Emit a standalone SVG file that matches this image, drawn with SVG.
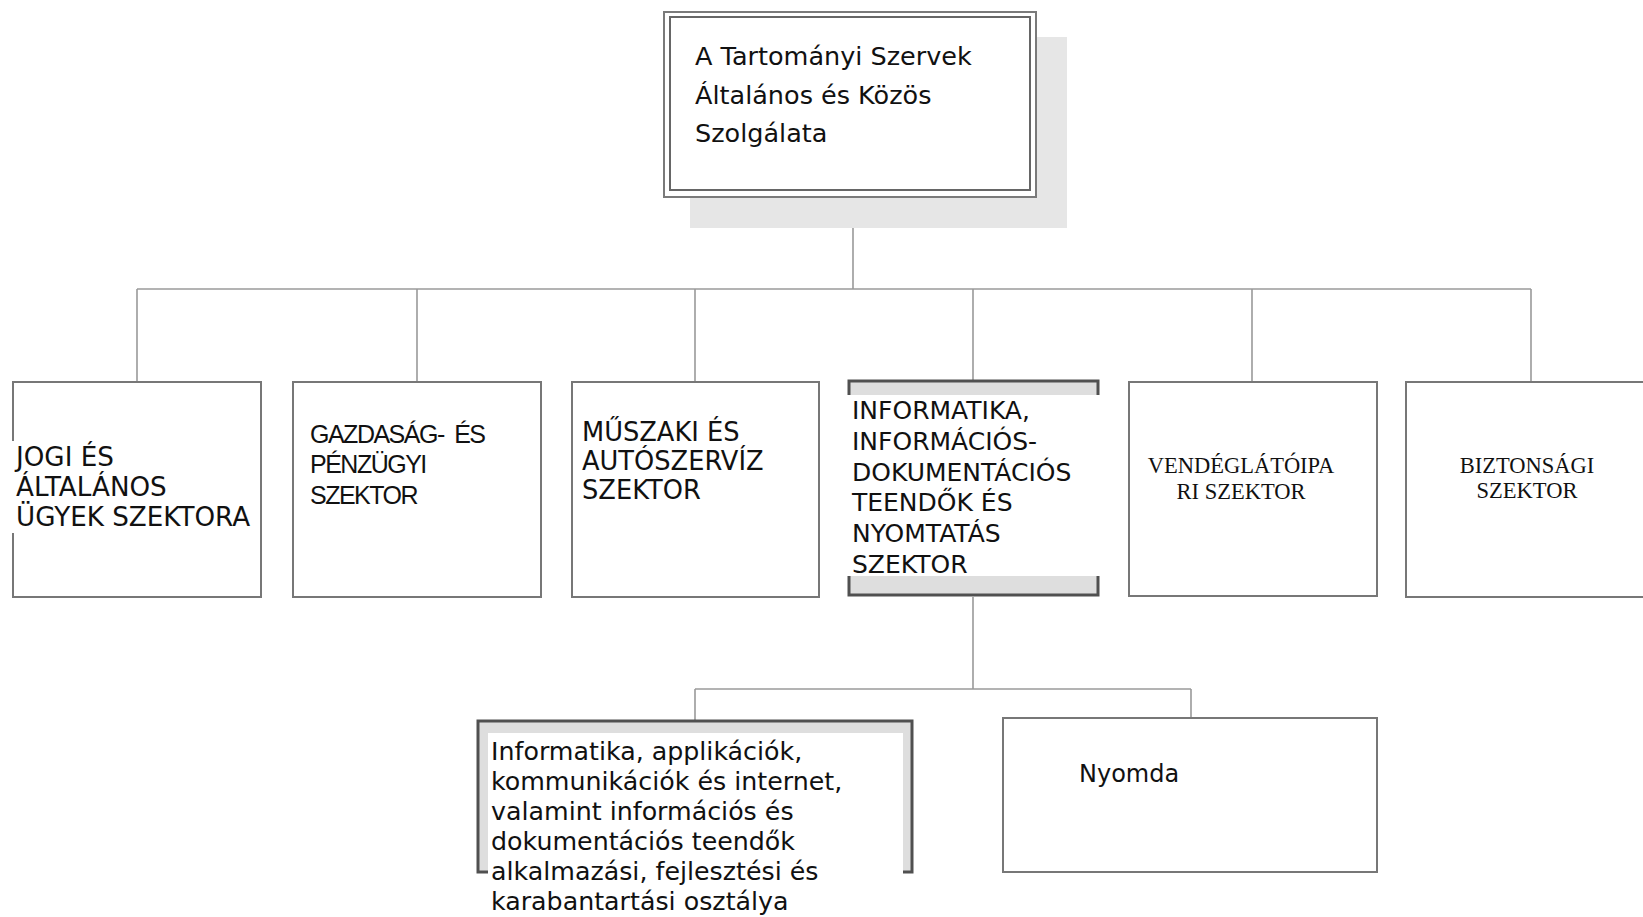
<svg xmlns="http://www.w3.org/2000/svg" width="1643" height="917" viewBox="0 0 1643 917">
<style>
.box{fill:#fff;stroke:#777;stroke-width:2}
.bold{fill:#dedede;stroke:#505050;stroke-width:3}
.bg{fill:#fff}
.conn{stroke:#9a9a9a;stroke-width:1.6;fill:none}
.v{font-family:"DejaVu Sans",Verdana,sans-serif;font-size:25px;fill:#111}
.n{font-family:"Liberation Sans",Arial,sans-serif;font-size:25px;letter-spacing:-1.5px;fill:#111}
.s{font-family:"Liberation Serif","Times New Roman",serif;font-size:22.5px;fill:#111;text-anchor:middle}
</style>
<rect width="1643" height="917" fill="#fff"/>
<g id="connectors">
<path class="conn" d="M853 197V289M137 289H1531M137 289V382M417 289V382M695 289V382M973 289V382M1252 289V382M1531 289V382"/>
<path class="conn" d="M973 597V689M695 689H1191M695 689V720M1191 689V718"/>
</g>
<g id="top">
<rect x="690" y="37" width="377" height="191" fill="#e6e6e6"/>
<rect x="664" y="12" width="372" height="185" fill="#fff" stroke="#7a7a7a" stroke-width="2"/>
<rect x="670" y="17" width="360" height="173" fill="#fff" stroke="#666" stroke-width="2"/>
<text class="v" style="font-size:25.5px"><tspan x="695" y="65">A Tartományi Szervek</tspan><tspan x="695" y="103.5">Általános és Közös</tspan><tspan x="695" y="142">Szolgálata</tspan></text>
</g>
<g id="jogi">
<rect class="box" x="13" y="382" width="248" height="215"/>
<rect class="bg" x="11" y="441" width="240" height="92"/>
<text class="v" style="font-size:26.2px"><tspan x="16" y="466">JOGI ÉS</tspan><tspan x="16" y="496">ÁLTALÁNOS</tspan><tspan x="16" y="526">ÜGYEK SZEKTORA</tspan></text>
</g>
<g id="gazdasag">
<rect class="box" x="293" y="382" width="248" height="215"/>
<text class="n"><tspan x="310" y="443">GAZDASÁG- </tspan><tspan dx="5">ÉS</tspan><tspan x="310" y="473">PÉNZÜGYI</tspan><tspan x="310" y="504">SZEKTOR</tspan></text>
</g>
<g id="muszaki">
<rect class="box" x="572" y="382" width="247" height="215"/>
<text class="v" style="font-size:25.7px"><tspan x="582" y="440.5">MŰSZAKI ÉS</tspan><tspan x="582" y="469.5">AUTÓSZERVÍZ</tspan><tspan x="582" y="498.5">SZEKTOR</tspan></text>
</g>
<g id="informatika">
<rect class="bold" x="849" y="381" width="249" height="214"/>
<rect class="bg" x="847" y="395" width="253" height="181"/>
<text class="v"><tspan x="852" y="419">INFORMATIKA,</tspan><tspan x="852" y="449.8">INFORMÁCIÓS-</tspan><tspan x="852" y="480.6">DOKUMENTÁCIÓS</tspan><tspan x="852" y="511.4">TEENDŐK ÉS</tspan><tspan x="852" y="542.2">NYOMTATÁS</tspan><tspan x="852" y="573">SZEKTOR</tspan></text>
</g>
<g id="vendeglato">
<rect class="box" x="1129" y="382" width="248" height="214"/>
<text class="s"><tspan x="1241" y="473">VENDÉGLÁTÓIPA</tspan><tspan x="1241" y="499">RI SZEKTOR</tspan></text>
</g>
<g id="biztonsagi">
<rect class="box" x="1406" y="382" width="260" height="215"/>
<text class="s"><tspan x="1527" y="472.5">BIZTONSÁGI</tspan><tspan x="1527" y="498">SZEKTOR</tspan></text>
</g>
<g id="informatika-osztaly">
<rect class="bold" x="478" y="721" width="434" height="151"/>
<rect class="bg" x="488" y="733" width="415" height="184"/>
<text class="v" style="font-size:25.3px"><tspan x="491" y="759.5">Informatika, applikációk,</tspan><tspan x="491" y="789.5">kommunikációk és internet,</tspan><tspan x="491" y="819.5">valamint információs és</tspan><tspan x="491" y="849.5">dokumentációs teendők</tspan><tspan x="491" y="879.5">alkalmazási, fejlesztési és</tspan><tspan x="491" y="909.5">karabantartási osztálya</tspan></text>
</g>
<g id="nyomda">
<rect class="box" x="1003" y="718" width="374" height="154"/>
<text class="v" style="font-size:24px"><tspan x="1079" y="782">Nyomda</tspan></text>
</g>
</svg>
